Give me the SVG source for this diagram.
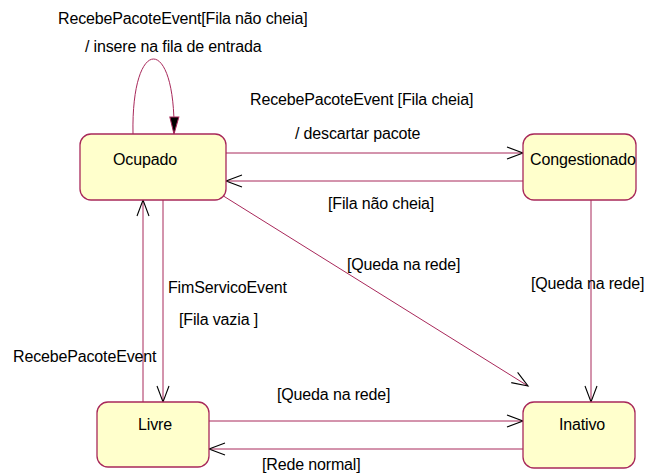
<svg xmlns="http://www.w3.org/2000/svg" width="647" height="475" viewBox="0 0 647 475">
  <style>
    .state rect { fill: #ffffcc; stroke: #a8285a; stroke-width: 1.3; }
    .lbl { font-family: "Liberation Sans", Arial, sans-serif; font-size: 16px; letter-spacing: -0.15px; fill: #000; }
    .edge { fill: none; stroke: #a8285a; stroke-width: 1; }
  </style>
  <defs>
    <marker id="open" markerUnits="userSpaceOnUse" markerWidth="20" markerHeight="16" viewBox="-18 -8 20 16" refX="0" refY="0" orient="auto" overflow="visible">
      <path d="M-16,-6 L0,0 L-16,6" fill="none" stroke="#000" stroke-width="1.1"/>
    </marker>
    <marker id="solid" markerUnits="userSpaceOnUse" markerWidth="20" markerHeight="12" viewBox="-18 -6 20 12" refX="0" refY="0" orient="auto" overflow="visible">
      <path d="M-17,-4.5 L0,0 L-17,4.5 Z" fill="#000" stroke="#a8285a" stroke-width="1"/>
    </marker>
  </defs>

  <rect width="647" height="475" fill="#ffffff"/>

  <g id="connectors">
    <!-- self transition on Ocupado -->
    <path class="edge" d="M133,134 C131,34 176,34 174,134" marker-end="url(#solid)"/>
    <!-- Ocupado <-> Congestionado -->
    <line class="edge" x1="226" y1="153" x2="523" y2="153" marker-end="url(#open)"/>
    <line class="edge" x1="523" y1="181" x2="226" y2="181" marker-end="url(#open)"/>
    <!-- Ocupado -> Inativo -->
    <line class="edge" x1="209" y1="187" x2="528" y2="386" marker-end="url(#open)"/>
    <!-- Congestionado -> Inativo -->
    <line class="edge" x1="591" y1="200" x2="591" y2="402" marker-end="url(#open)"/>
    <!-- Ocupado <-> Livre -->
    <line class="edge" x1="163" y1="200" x2="163" y2="402" marker-end="url(#open)"/>
    <line class="edge" x1="143" y1="402" x2="143" y2="200" marker-end="url(#open)"/>
    <!-- Livre <-> Inativo -->
    <line class="edge" x1="209" y1="421" x2="523" y2="421" marker-end="url(#open)"/>
    <line class="edge" x1="523" y1="449" x2="209" y2="449" marker-end="url(#open)"/>
  </g>

  <g id="ocupado" class="state">
    <rect x="80" y="134" width="146" height="66" rx="11"/>
    <text class="lbl" x="113" y="165">Ocupado</text>
  </g>
  <g id="congestionado" class="state">
    <rect x="523" y="134" width="113" height="66" rx="11"/>
    <text class="lbl" x="530" y="165">Congestionado</text>
  </g>
  <g id="livre" class="state">
    <rect x="97" y="402" width="112" height="65" rx="11"/>
    <text class="lbl" x="138" y="430">Livre</text>
  </g>
  <g id="inativo" class="state">
    <rect x="523" y="402" width="112" height="66" rx="11"/>
    <text class="lbl" x="559" y="430">Inativo</text>
  </g>

  <g id="labels">
    <text class="lbl" x="58" y="24">RecebePacoteEvent[Fila não cheia]</text>
    <text class="lbl" x="85" y="52">/ insere na fila de entrada</text>
    <text class="lbl" x="250" y="105">RecebePacoteEvent [Fila cheia]</text>
    <text class="lbl" x="295" y="139">/ descartar pacote</text>
    <text class="lbl" x="328" y="209">[Fila não cheia]</text>
    <text class="lbl" x="347" y="270">[Queda na rede]</text>
    <text class="lbl" x="531" y="289">[Queda na rede]</text>
    <text class="lbl" x="168" y="293">FimServicoEvent</text>
    <text class="lbl" x="179" y="325">[Fila vazia ]</text>
    <text class="lbl" x="13" y="362">RecebePacoteEvent</text>
    <text class="lbl" x="277" y="400">[Queda na rede]</text>
    <text class="lbl" x="262" y="470">[Rede normal]</text>
  </g>
</svg>
